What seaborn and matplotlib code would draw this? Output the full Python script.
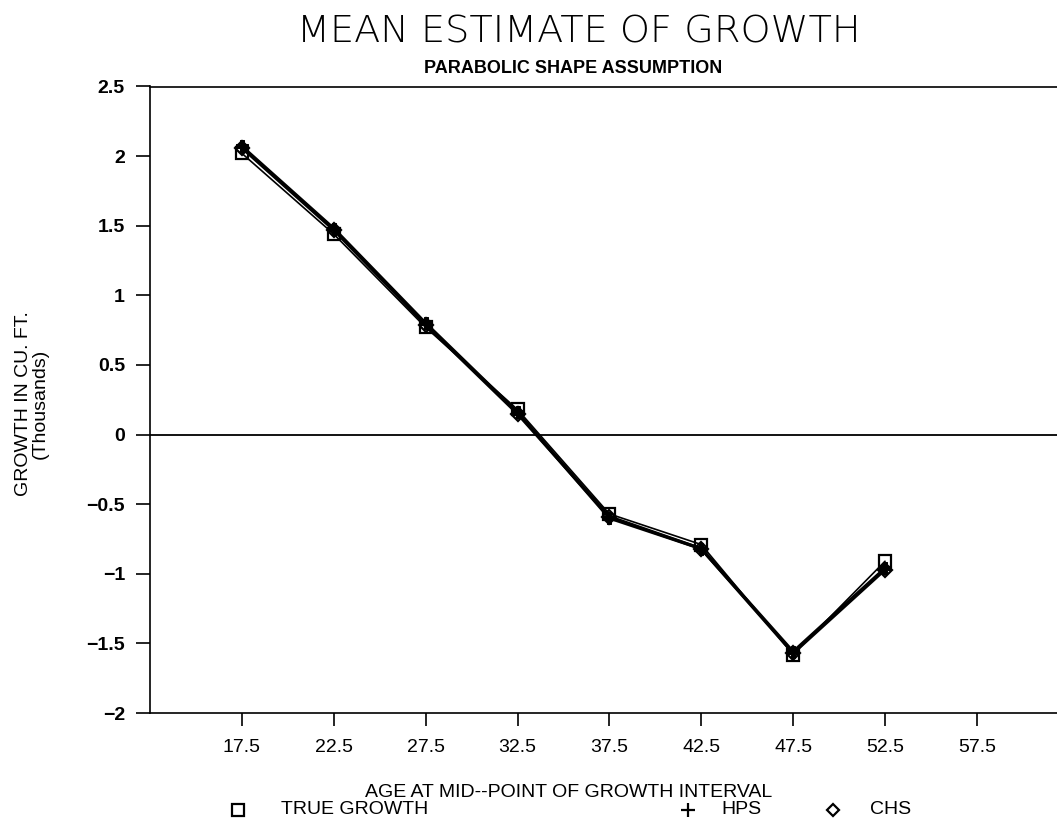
import matplotlib
matplotlib.use("Agg")
import matplotlib.pyplot as plt
import seaborn as sns
import pandas as pd

# Age at mid-point of each growth interval
ages = [17.5, 22.5, 27.5, 32.5, 37.5, 42.5, 47.5, 52.5]
# Mean growth estimates (thousands of cu. ft.)
true_growth = [2.02, 1.44, 0.77, 0.18, -0.57, -0.79, -1.58, -0.91]
hps = [2.07, 1.48, 0.80, 0.16, -0.60, -0.82, -1.56, -0.96]
chs = [2.06, 1.47, 0.79, 0.15, -0.59, -0.82, -1.57, -0.97]
series_names = ["TRUE GROWTH", "HPS", "CHS"]
x_ticks = [17.5, 22.5, 27.5, 32.5, 37.5, 42.5, 47.5, 52.5, 57.5]
y_ticks = [-2, -1.5, -1, -0.5, 0, 0.5, 1, 1.5, 2, 2.5]

df = pd.DataFrame({
    "age": ages * 3,
    "growth": true_growth + hps + chs,
    "series": [series_names[0]] * len(ages) + [series_names[1]] * len(ages)
              + [series_names[2]] * len(ages),
})

sns.set_theme(style="white")
plt.rcParams["font.family"] = ["Liberation Sans", "DejaVu Sans"]

W, H = 1057, 821
fig = plt.figure(figsize=(W / 100, H / 100), dpi=100)
ax = fig.add_axes([150 / W, 1 - 713 / H, 1 - 150 / W, (713 - 86.5) / H])

markers = {"TRUE GROWTH": "s", "HPS": "P", "CHS": "D"}
sns.lineplot(data=df, x="age", y="growth", hue="series", style="series",
             markers=markers, dashes=False, palette=["black"] * 3,
             linewidth=2.3, markersize=9, markeredgecolor="black",
             legend=False, ax=ax)
for line in ax.get_lines():
    if line.get_marker() in ("s", "D"):
        line.set_markerfacecolor("none")
        line.set_markeredgewidth(1.6)
    else:
        line.set_markerfacecolor("black")
ax.get_lines()[0].set_linewidth(1.2)
ax.get_lines()[2].set_markersize(7)

ax.axhline(0, color="black", linewidth=1.3, zorder=0)

ax.set_xlim(12.5, 12.5 + (W - 150) / ((977 - 242) / 40))
ax.set_ylim(-2, 2.5)
ax.set_xticks(x_ticks)
ax.set_xticklabels([f"{v:.1f}" for v in x_ticks], fontsize=14)
ax.set_yticks(y_ticks)
ax.set_yticklabels([f"{v:g}".replace("-", "\u2212") for v in y_ticks],
                   fontsize=14, fontweight="bold")
ax.tick_params(axis="x", direction="out", length=9, width=1.2, pad=10,
               bottom=True, colors="black")
ax.tick_params(axis="y", direction="out", length=10, width=1.2, pad=8,
               left=True, colors="black")
for side in ["left", "bottom", "top"]:
    ax.spines[side].set_visible(True)
    ax.spines[side].set_color("black")
    ax.spines[side].set_linewidth(1.2)
ax.spines["right"].set_visible(False)
ax.set_xlabel("")
ax.set_ylabel("")

# Titles and axis labels
fig.text(579 / W, 1 - 32 / H, "MEAN ESTIMATE OF GROWTH", ha="center", va="center",
         fontsize=27.5, fontfamily="DejaVu Sans", fontweight="light", color="black")
fig.text(573 / W, 1 - 68 / H, "PARABOLIC SHAPE ASSUMPTION", ha="center", va="center",
         fontsize=13, fontweight="bold", color="black")
fig.text(32 / W, 1 - 404 / H, "GROWTH IN CU. FT.\n(Thousands)", ha="center",
         va="center", rotation=90, fontsize=14, linespacing=0.95, color="black")
fig.text(569 / W, 1 - 792 / H, "AGE AT MID--POINT OF GROWTH INTERVAL",
         ha="center", va="center", fontsize=14, color="black")

# Legend row beneath the axis label
lax = fig.add_axes([0, 0, 1, 1])
lax.set_xlim(0, W)
lax.set_ylim(H, 0)
lax.axis("off")
legend_items = [(238, 281, "s", "none", 8), (688, 721, "+", "black", 10),
                (833, 870, "D", "none", 6)]
for (mx, tx, mk, fc, ms), name in zip(legend_items, series_names):
    lax.plot([mx], [810], marker=mk, markersize=ms, markerfacecolor=fc,
             markeredgecolor="black", markeredgewidth=1.6, linestyle="none")
    lax.text(tx, 810, name, ha="left", va="center", fontsize=14, color="black")

fig.savefig("out.png", dpi=100, facecolor="white")
